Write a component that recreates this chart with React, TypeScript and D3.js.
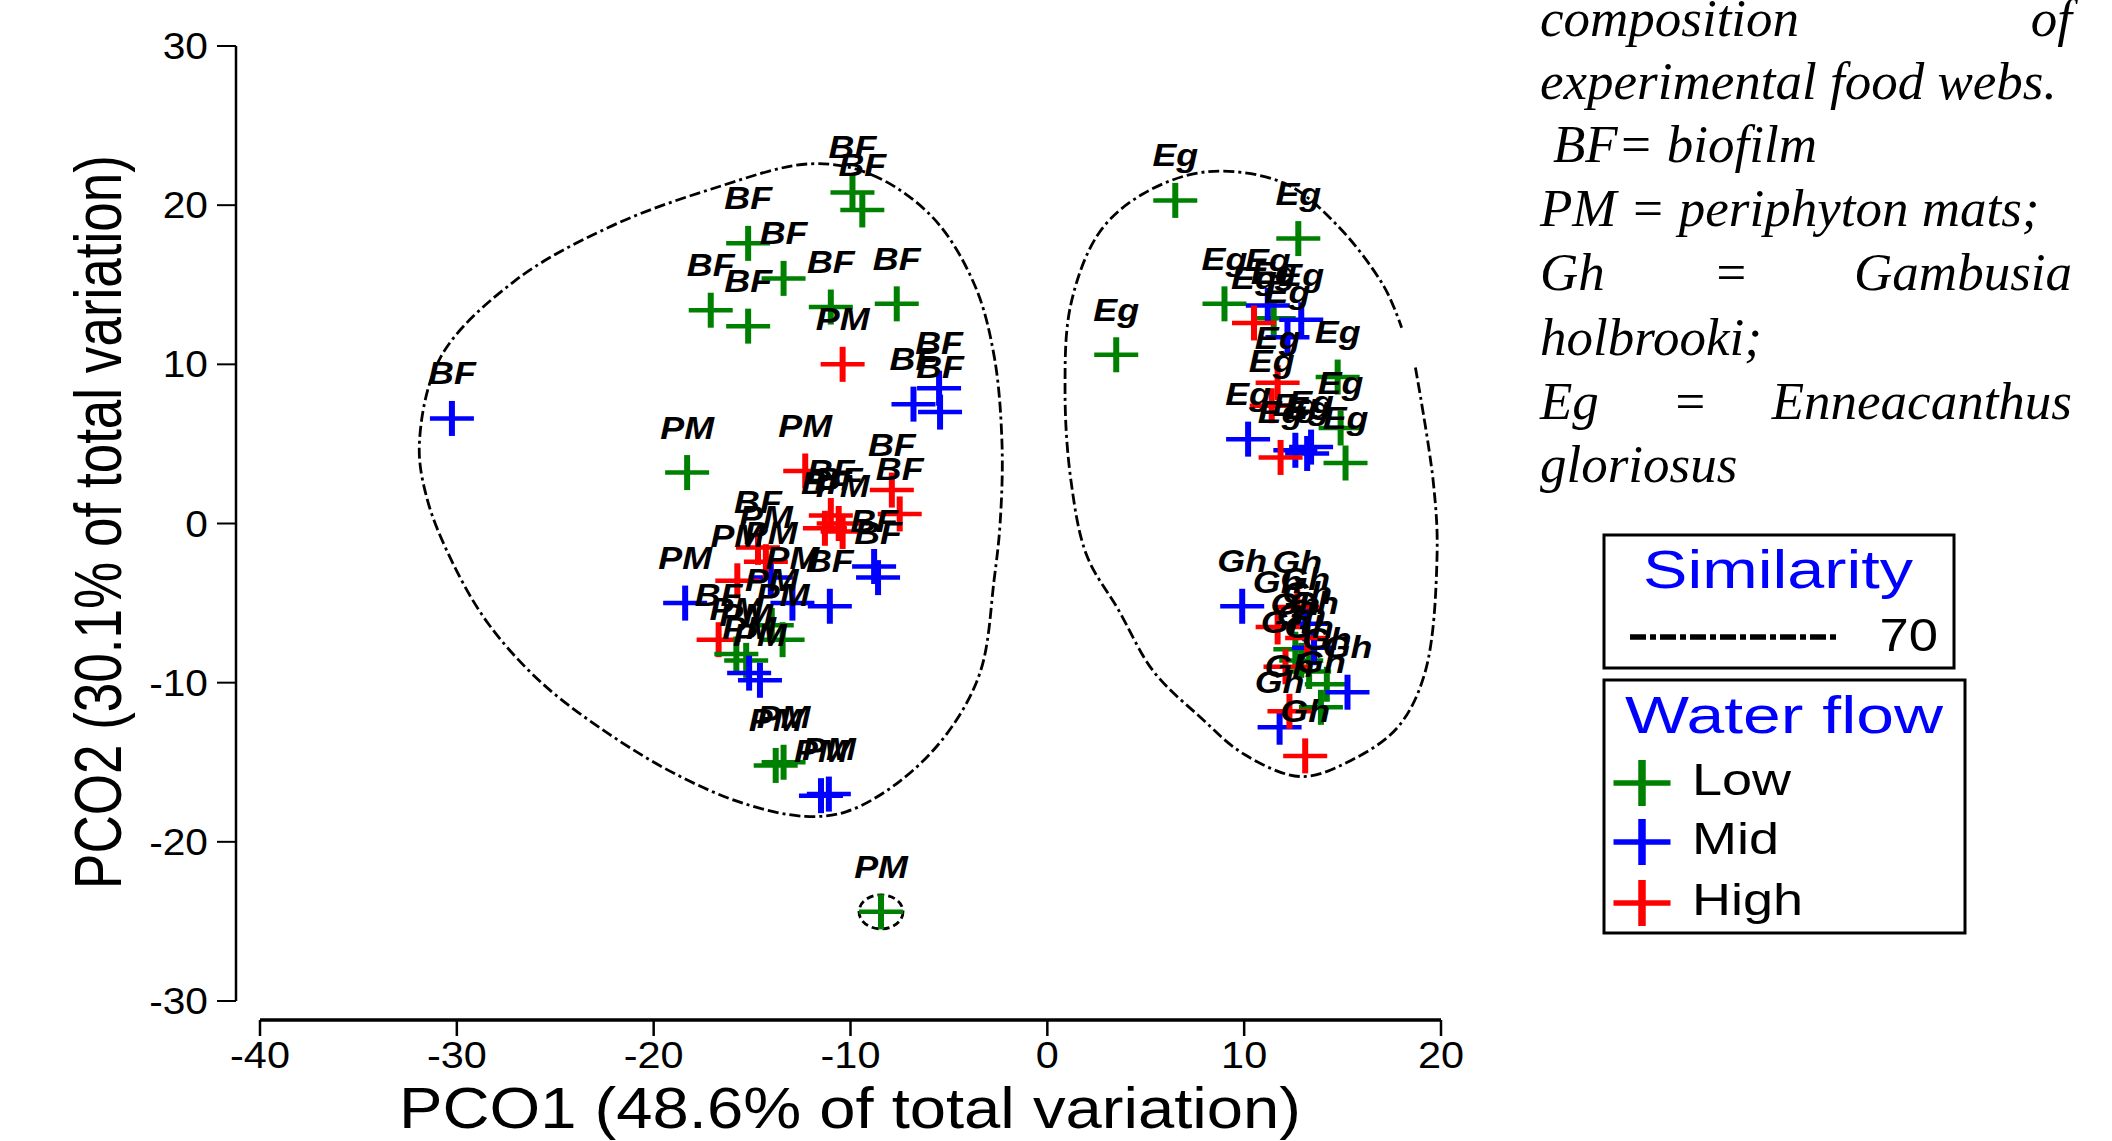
import React from "react";
import * as d3 from "d3";

const W = 2112;
const H = 1141;

// ---- data: [PCO1, PCO2] per sample, split by food-web component and water flow ----
const bfLow: [number, number][] = [
  [-9.9, 20.8], [-9.4, 19.7], [-15.2, 17.6], [-13.4, 15.4],
  [-17.1, 13.4], [-15.2, 12.4], [-11.0, 13.6], [-7.65, 13.8],
];
const bfMid: [number, number][] = [
  [-30.25, 6.6], [-6.8, 7.5], [-5.5, 8.5], [-5.45, 7.0],
  [-8.8, -2.7], [-8.6, -3.4], [-11.05, -5.2],
];
const bfHigh: [number, number][] = [
  [-7.9, 2.1], [-7.5, 0.6], [-11.0, 0.5], [-10.6, 0.0],
  [-11.3, -0.3], [-14.7, -1.5], [-16.7, -7.3],
];
const pmLow: [number, number][] = [
  [-18.3, 3.2], [-14.0, -6.4], [-13.45, -7.3], [-15.8, -8.2],
  [-15.3, -8.6], [-13.8, -15.2], [-13.4, -15.0], [-8.45, -24.4],
];
const pmMid: [number, number][] = [
  [-14.05, -3.4], [-18.4, -5.0], [-12.95, -5.0], [-15.15, -9.4],
  [-14.6, -9.85], [-11.5, -17.1], [-11.1, -17.0],
];
const pmHigh: [number, number][] = [
  [-10.4, 10.0], [-12.3, 3.3], [-10.4, -0.5], [-15.75, -3.6], [-14.3, -2.4],
];
const egLow: [number, number][] = [
  [6.5, 20.3], [12.75, 17.9], [9.0, 13.8], [3.5, 10.6],
  [11.5, 12.9], [14.75, 9.2], [14.9, 6.0], [15.15, 3.8],
];
const egMid: [number, number][] = [
  [11.2, 13.7], [12.9, 12.8], [12.2, 11.7], [10.2, 5.3],
  [12.6, 4.6], [13.2, 4.4], [13.4, 4.8],
];
const egHigh: [number, number][] = [
  [10.5, 12.6], [11.7, 8.85], [11.4, 7.4], [11.85, 4.15],
];
const ghLow: [number, number][] = [
  [12.9, -8.6], [14.2, -10.1], [13.9, -11.55], [13.3, -9.3], [12.6, -7.9],
];
const ghMid: [number, number][] = [
  [9.9, -5.2], [13.55, -7.8], [15.25, -10.6], [11.8, -12.8], [13.1, -6.3],
];
const ghHigh: [number, number][] = [
  [12.7, -5.25], [11.7, -6.5], [13.2, -7.2], [12.3, -11.8], [13.1, -14.6], [12.1, -9.0],
];

// similarity (70) contours, in PCO units
const contourLeft: [number, number][] = [
  [-12.0, 22.6], [-8.9, 21.9], [-5.8, 19.2], [-3.7, 15.0], [-2.7, 10.5],
  [-2.3, 4.9], [-2.4, 0], [-2.7, -3.5], [-3.4, -9.3], [-5.1, -13.2],
  [-7.5, -16.2], [-10.2, -18.1], [-12.3, -18.4], [-15.4, -17.6], [-18.8, -15.8],
  [-22.3, -13.2], [-25.7, -10.0], [-28.4, -6.3], [-30.2, -2.5], [-31.5, 1.5],
  [-31.9, 5.1], [-30.8, 10.5], [-27.1, 15.2], [-22.3, 18.6], [-17.1, 21.0],
];
const contourRight: [number, number][] = [
  [18.7, 9.8], [19.6, 2.7], [19.8, -2.0], [19.2, -9.3], [17.8, -12.8],
  [15.4, -14.9], [12.9, -15.9], [10.0, -14.5], [7.8, -12.2], [5.4, -9.3],
  [3.6, -5.4], [2.0, -2.0], [1.2, 2.7], [0.9, 8.3], [1.2, 13.8],
  [2.65, 18.3], [4.85, 20.7], [8.1, 22.1], [12.0, 21.4], [14.6, 18.9],
  [17.1, 14.9], [18.0, 12.3],
];
const singletonPM: [number, number] = [-8.45, -24.4];

const xTicks = [-40, -30, -20, -10, 0, 10, 20];
const yTicks = [-30, -20, -10, 0, 10, 20, 30];
const flows = ["Low", "Mid", "High"];
const similarityLevel = "70";

const flowColor: Record<string, string> = { Low: "#008000", Mid: "#0000ff", High: "#ff0000" };

const series = [
  { label: "BF", flow: "Low", pts: bfLow },
  { label: "BF", flow: "Mid", pts: bfMid },
  { label: "BF", flow: "High", pts: bfHigh },
  { label: "PM", flow: "Low", pts: pmLow },
  { label: "PM", flow: "Mid", pts: pmMid },
  { label: "PM", flow: "High", pts: pmHigh },
  { label: "Eg", flow: "Low", pts: egLow },
  { label: "Eg", flow: "Mid", pts: egMid },
  { label: "Eg", flow: "High", pts: egHigh },
  { label: "Gh", flow: "Low", pts: ghLow },
  { label: "Gh", flow: "Mid", pts: ghMid },
  { label: "Gh", flow: "High", pts: ghHigh },
];

const xS = d3.scaleLinear().domain([-40, 20]).range([260, 1441]);
const yS = d3.scaleLinear().domain([-30, 30]).range([1001, 46]);

const SANS = "'Liberation Sans', Arial, sans-serif";
const SERIF = "'Liberation Serif', 'Times New Roman', serif";

function Cross({ cx, cy, color, w = 44, h = 35, th = 4.5, tv = 6 }: any) {
  return (
    <g>
      <line x1={cx - w / 2} x2={cx + w / 2} y1={cy} y2={cy} stroke={color} strokeWidth={th} />
      <line x1={cx} x2={cx} y1={cy - h / 2} y2={cy + h / 2} stroke={color} strokeWidth={tv} />
    </g>
  );
}

function SText({ x, y, anchor = "middle", size, weight = "normal", italic = false, fill = "#000", sx = 1.2, children }: any) {
  return (
    <text
      transform={`translate(${x},${y}) scale(${sx},1)`}
      textAnchor={anchor}
      fontFamily={SANS}
      fontSize={size}
      fontWeight={weight}
      fontStyle={italic ? "italic" : "normal"}
      fill={fill}
    >
      {children}
    </text>
  );
}

export default function App() {
  const closed = d3.line<[number, number]>().x((d) => xS(d[0])).y((d) => yS(d[1])).curve(d3.curveCatmullRomClosed.alpha(0.5));
  const open = d3.line<[number, number]>().x((d) => xS(d[0])).y((d) => yS(d[1])).curve(d3.curveCatmullRom.alpha(0.5));
  const dash = "11,4,11,4,3,4";

  const serifLines = [
    { y: 36, words: [{ t: "composition", x: 1540, a: "start" }, { t: "of", x: 2072, a: "end" }] },
    { y: 99, words: [{ t: "experimental food webs.", x: 1540, a: "start" }] },
    { y: 162, words: [{ t: "BF= biofilm", x: 1553, a: "start" }] },
    { y: 226, words: [{ t: "PM = periphyton mats;", x: 1540, a: "start" }] },
    { y: 290, words: [{ t: "Gh", x: 1540, a: "start" }, { t: "=", x: 1731, a: "middle" }, { t: "Gambusia", x: 2072, a: "end" }] },
    { y: 355, words: [{ t: "holbrooki;", x: 1540, a: "start" }] },
    { y: 419, words: [{ t: "Eg", x: 1540, a: "start" }, { t: "=", x: 1690, a: "middle" }, { t: "Enneacanthus", x: 2072, a: "end" }] },
    { y: 482, words: [{ t: "gloriosus", x: 1540, a: "start" }] },
  ];

  return (
    <div style={{ position: "fixed", left: 0, top: 0 }}>
      <svg width={W} height={H} viewBox={`0 0 ${W} ${H}`} style={{ display: "block", background: "#fff" }}>
        <rect x={0} y={0} width={W} height={H} fill="#fff" />

        {/* axes */}
        <line x1={236} x2={236} y1={yS(-30)} y2={yS(30)} stroke="#000" strokeWidth={2.5} />
        {yTicks.map((t) => (
          <g key={"yt" + t}>
            <line x1={217} x2={236} y1={yS(t)} y2={yS(t)} stroke="#000" strokeWidth={2} />
            <SText x={208} y={yS(t) + 13} anchor="end" size={37} sx={1.1}>{String(t)}</SText>
          </g>
        ))}
        <line x1={xS(-40)} x2={xS(20)} y1={1020} y2={1020} stroke="#000" strokeWidth={3.5} />
        {xTicks.map((t) => (
          <g key={"xt" + t}>
            <line x1={xS(t)} x2={xS(t)} y1={1020} y2={1036} stroke="#000" strokeWidth={2.5} />
            <SText x={xS(t)} y={1068} anchor="middle" size={37} sx={1.12}>{String(t)}</SText>
          </g>
        ))}
        <text x={850} y={1128} textAnchor="middle" fontFamily={SANS} fontSize={57} textLength={902} lengthAdjust="spacingAndGlyphs">
          PCO1 (48.6% of total variation)
        </text>
        <text transform="translate(121,522) scale(1.2,1) rotate(-90)" textAnchor="middle" fontFamily={SANS} fontSize={56} textLength={734} lengthAdjust="spacingAndGlyphs">
          PCO2 (30.1% of total variation)
        </text>

        {/* similarity contours */}
        <path d={closed(contourLeft) || ""} fill="none" stroke="#000" strokeWidth={2.8} strokeDasharray={dash} />
        <path d={open(contourRight) || ""} fill="none" stroke="#000" strokeWidth={2.8} strokeDasharray={dash} />
        <ellipse cx={xS(singletonPM[0])} cy={yS(singletonPM[1])} rx={22} ry={17} fill="none" stroke="#000" strokeWidth={2.8} strokeDasharray="7,4" />

        {/* markers */}
        {series.map((s, i) =>
          s.pts.map((p, j) => <Cross key={`m${i}-${j}`} cx={xS(p[0])} cy={yS(p[1])} color={flowColor[s.flow]} />)
        )}
        {/* labels */}
        {series.map((s, i) =>
          s.pts.map((p, j) => (
            <SText key={`l${i}-${j}`} x={xS(p[0])} y={yS(p[1]) - 34} size={32} weight="bold" italic sx={1.12}>
              {s.label}
            </SText>
          ))
        )}

        {/* caption text */}
        {serifLines.map((ln, i) =>
          ln.words.map((w, j) => (
            <text key={`c${i}-${j}`} x={w.x} y={ln.y} textAnchor={w.a} fontFamily={SERIF} fontStyle="italic" fontSize={53} fill="#000">
              {w.t}
            </text>
          ))
        )}

        {/* legend: similarity */}
        <rect x={1604} y={535} width={350} height={133} fill="#fff" stroke="#000" strokeWidth={3} />
        <text x={1643} y={588} fontFamily={SANS} fontSize={53} fill="#0000ff" textLength={270} lengthAdjust="spacingAndGlyphs">Similarity</text>
        <line x1={1630} x2={1838} y1={637} y2={637} stroke="#000" strokeWidth={5.5} strokeDasharray="16,4,6,4" />
        <SText x={1938} y={651} anchor="end" size={47} sx={1.12}>{similarityLevel}</SText>

        {/* legend: water flow */}
        <rect x={1604} y={680} width={361} height={253} fill="#fff" stroke="#000" strokeWidth={3} />
        <text x={1625} y={733} fontFamily={SANS} fontSize={52} fill="#0000ff" textLength={318} lengthAdjust="spacingAndGlyphs">Water flow</text>
        {flows.map((f, i) => {
          const cy = [783, 842, 903][i];
          return (
            <g key={"lg" + f}>
              <Cross cx={1642} cy={cy} color={flowColor[f]} w={57} h={46} th={5.5} tv={7.5} />
              <SText x={1692} y={cy + 12} anchor="start" size={45} sx={1.2}>{f}</SText>
            </g>
          );
        })}
      </svg>
    </div>
  );
}
